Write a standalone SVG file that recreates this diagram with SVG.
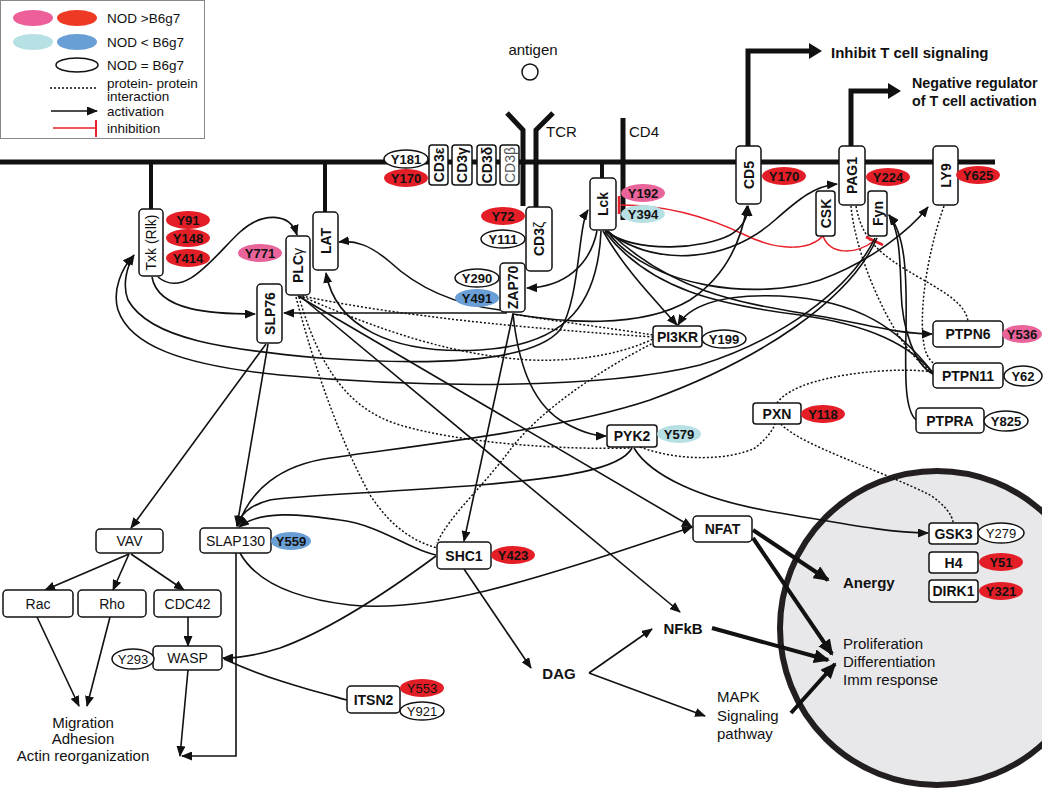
<svg xmlns="http://www.w3.org/2000/svg" width="1050" height="790" viewBox="0 0 1050 790">
<style>
text{font-family:"Liberation Sans",Arial,sans-serif;fill:#111}
.bx{fill:#fff;stroke:#111;stroke-width:1.5}
.lb{font-size:14px;font-weight:bold;text-anchor:middle;dominant-baseline:central}
.ln{font-size:14px;text-anchor:middle;dominant-baseline:central}
.y{font-size:13px;font-weight:bold;text-anchor:middle;dominant-baseline:central}
.yn{font-size:13px;text-anchor:middle;dominant-baseline:central}
.r{fill:#e41e26}.p{fill:#e9649a}.lbl{fill:#b7e0e4}.b{fill:#6a9fd6}.w{fill:#fff;stroke:#111;stroke-width:1.5}
.c{fill:none;stroke:#111;stroke-width:1.6}
.d{fill:none;stroke:#111;stroke-width:1.5;stroke-dasharray:2 2}
.k{fill:none;stroke:#111;stroke-width:4}
.m{fill:none;stroke:#111;stroke-width:5}
.red{fill:none;stroke:#e8202a;stroke-width:1.5}
.lg{font-size:13.5px}
.big{font-size:15px;font-weight:bold}
.t15{font-size:15px}
</style>
<defs>
<marker id="a" markerWidth="11" markerHeight="9" refX="10" refY="4.5" orient="auto" markerUnits="userSpaceOnUse"><path d="M0,0 L11,4.5 L0,9 z" fill="#111"/></marker>
<marker id="as" markerWidth="11" markerHeight="9" refX="10" refY="4.5" orient="auto-start-reverse" markerUnits="userSpaceOnUse"><path d="M0,0 L11,4.5 L0,9 z" fill="#111"/></marker>
<marker id="A" markerWidth="16" markerHeight="14" refX="14" refY="7" orient="auto" markerUnits="userSpaceOnUse"><path d="M0,0 L16,7 L0,14 z" fill="#111"/></marker>
<clipPath id="clipN"><rect x="0" y="0" width="1042" height="790"/></clipPath>
</defs>

<!-- legend -->
<g id="legend">
<rect x="0.5" y="0.5" width="204" height="138" fill="#fff" stroke="#888" stroke-width="1"/>
<ellipse cx="33" cy="18" rx="20" ry="8" fill="#ec5f98"/>
<ellipse cx="77" cy="18" rx="20" ry="8" fill="#ee3a24"/>
<ellipse cx="33" cy="42" rx="20" ry="8" fill="#b7e0e4"/>
<ellipse cx="77" cy="42" rx="20" ry="8" fill="#6a9fd6"/>
<ellipse cx="77" cy="65" rx="21" ry="7" fill="#fff" stroke="#111" stroke-width="1.5"/>
<text class="lg" x="107" y="23">NOD &gt;B6g7</text>
<text class="lg" x="107" y="47">NOD &lt; B6g7</text>
<text class="lg" x="107" y="70">NOD = B6g7</text>
<line x1="50" y1="88" x2="96" y2="88" class="d" stroke-width="1.2"/>
<text class="lg" x="107" y="88">protein- protein</text>
<text class="lg" x="107" y="101">interaction</text>
<line x1="51" y1="111" x2="97" y2="111" class="c" marker-end="url(#a)"/>
<text class="lg" x="107" y="116">activation</text>
<line x1="53" y1="128" x2="96" y2="128" class="red"/>
<line x1="96" y1="120" x2="96" y2="137" stroke="#e8202a" stroke-width="2"/>
<text class="lg" x="107" y="133">inhibition</text>
</g>

<!-- nucleus -->
<g id="nucleus" clip-path="url(#clipN)">
<circle cx="937" cy="628" r="157" fill="#e8e8ea" stroke="#231f20" stroke-width="6"/>
</g>

<!-- membrane and receptors -->
<g id="membrane">
<line x1="0" y1="162" x2="995" y2="162" class="m"/>
<line x1="151" y1="162" x2="151" y2="209" stroke="#111" stroke-width="4"/>
<line x1="325" y1="162" x2="325" y2="212" stroke="#111" stroke-width="4"/>
<line x1="602" y1="162" x2="602" y2="178" stroke="#111" stroke-width="4"/>
<line x1="623" y1="118" x2="623" y2="220" stroke="#111" stroke-width="5"/>
<polyline points="507,113 523,130 523,206" class="m"/>
<polyline points="553,113 536,130 536,207" class="m"/>
<path d="M748,146 V51 H811" class="m"/>
<path d="M809,43 L822,51 L809,59 z" fill="#111"/>
<path d="M851,146 V91 H890" class="m"/>
<path d="M888,83 L901,91 L888,99 z" fill="#111"/>
</g>

<g id="labels">
<text x="533" y="55" text-anchor="middle" font-size="15">antigen</text>
<circle cx="530" cy="72" r="8" fill="#fff" stroke="#111" stroke-width="1.5"/>
<text x="546" y="137" font-size="15">TCR</text>
<text x="629" y="137" font-size="15">CD4</text>
<text x="831" y="58" class="big">Inhibit T cell signaling</text>
<text x="912" y="88" class="big" font-size="14.3" style="font-size:14.3px">Negative regulator</text>
<text x="912" y="106" class="big" font-size="14.3" style="font-size:14.3px">of T cell activation</text>
<text x="559" y="673" class="big" text-anchor="middle" dominant-baseline="central">DAG</text>
<text x="683" y="628" class="big" text-anchor="middle" dominant-baseline="central">NFkB</text>
<text x="717" y="702" class="t15">MAPK</text>
<text x="717" y="721" class="t15">Signaling</text>
<text x="717" y="739" class="t15">pathway</text>
<text x="843" y="588" class="big">Anergy</text>
<text x="843" y="649" class="t15">Proliferation</text>
<text x="843" y="667" class="t15">Differentiation</text>
<text x="843" y="685" class="t15">Imm response</text>
<text x="83" y="728" class="t15" text-anchor="middle">Migration</text>
<text x="83" y="744" class="t15" text-anchor="middle">Adhesion</text>
<text x="83" y="761" class="t15" text-anchor="middle">Actin reorganization</text>
</g>

<!-- connectors -->
<g id="connectors">
<!-- dotted interactions -->
<path class="d" d="M302,296 C380,312 480,325 653,337"/>
<path class="d" d="M303,297 C380,330 450,355 530,360 C590,362 630,350 653,339"/>
<path class="d" d="M512,314 C560,322 610,328 653,335"/>
<path class="d" d="M655,342 C600,370 540,410 510,450 C480,490 450,515 437,543"/>
<path class="d" d="M296,297 C315,370 340,440 370,495 C390,525 410,540 437,548"/>
<path class="d" d="M299,297 C320,370 350,410 400,425 C460,443 560,450 632,448"/>
<path class="d" d="M640,447 C680,462 730,460 755,448 C765,440 772,432 775,424"/>
<path class="d" d="M781,424 C800,445 880,470 930,495 C945,505 952,515 953,522"/>
<path class="d" d="M777,403 C790,385 830,375 880,371 C910,369 925,371 933,372"/>
<path class="d" d="M856,206 C862,240 880,255 920,278 C950,295 965,305 968,321"/>
<path class="d" d="M851,206 C855,250 880,310 905,345 C918,362 926,368 933,372"/>
<path class="d" d="M944,206 C925,260 918,320 925,350 C928,358 931,362 935,364"/>

<!-- red inhibition -->
<path class="red" d="M823,236 C810,250 780,252 745,235 C710,218 670,205 621,205"/>
<line x1="619" y1="196" x2="619" y2="214" stroke="#e8202a" stroke-width="2.5"/>
<path class="red" d="M823,236 C830,255 855,255 874,241"/>
<line x1="866" y1="237" x2="883" y2="245" stroke="#e8202a" stroke-width="2.5"/>

<!-- activation -->
<path class="c" d="M158,277 C185,300 215,255 240,232 C262,212 290,212 297,235" marker-end="url(#a)"/>
<path class="c" d="M152,277 C158,312 215,314 255,314" marker-end="url(#a)"/>
<path class="c" d="M588,210 C578,225 580,300 560,330 C530,365 420,365 320,358 C230,350 150,340 128,300 C122,285 127,266 134,255" marker-start="url(#as)" marker-end="url(#a)"/>
<path class="c" d="M875,238 C850,290 780,340 700,365 C600,390 420,388 280,375 C180,365 130,345 118,310 C112,290 122,268 133,256" marker-end="url(#a)"/>
<path class="c" d="M507,313 L284,313" marker-end="url(#a)"/>
<path class="c" d="M500,310 C460,305 420,290 390,262 C370,245 355,240 339,242" marker-end="url(#a)"/>
<path class="c" d="M597,231 C590,265 565,287 527,288" marker-end="url(#a)"/>
<path class="c" d="M601,231 C598,300 570,345 480,350 C390,355 335,325 326,273" marker-end="url(#a)"/>
<path class="c" d="M605,231 C640,255 705,248 730,235 C742,228 748,218 748,206" marker-end="url(#a)"/>
<path class="c" d="M513,314 C560,322 640,330 690,300 C720,280 740,250 747,206" marker-end="url(#a)"/>
<path class="c" d="M606,231 C660,270 730,260 775,220 C800,198 815,186 837,184" marker-end="url(#a)"/>
<path class="c" d="M603,231 C625,270 655,300 677,325" marker-end="url(#a)"/>
<path class="c" d="M607,231 C650,290 760,300 820,280 C870,262 910,230 928,207" marker-end="url(#a)"/>
<path class="c" d="M608,231 C680,300 760,305 830,318 C880,328 905,334 932,334" marker-end="url(#a)"/>
<path class="c" d="M605,232 C650,290 720,305 800,315 C870,325 910,345 933,373"/>
<path class="c" d="M933,373 C900,330 860,300 780,296 C720,294 690,305 678,325" marker-end="url(#a)"/>
<path class="c" d="M933,374 C915,365 902,330 901,290 C900,250 898,228 889,215" marker-end="url(#a)"/>
<path class="c" d="M916,420 C905,410 905,380 906,330 C907,270 905,235 889,215" marker-end="url(#a)"/>
<path class="c" d="M877,238 C850,300 760,360 650,400 C560,430 420,445 330,458 C280,465 250,490 238,526" marker-end="url(#a)"/>
<path class="c" d="M632,448 C620,470 560,478 480,485 C380,493 300,495 270,500 C250,505 240,515 237,526" marker-end="url(#a)"/>
<path class="c" d="M436,555 C410,550 380,525 340,520 C300,514 260,510 239,527" marker-end="url(#a)"/>
<path class="c" d="M268,344 L237,526" marker-end="url(#a)"/>
<path class="c" d="M266,344 L131,528" marker-end="url(#a)"/>
<path class="c" d="M513,314 C518,360 530,400 560,420 C580,432 595,436 606,436" marker-end="url(#a)"/>
<path class="c" d="M513,314 L464,541" marker-end="url(#a)"/>
<path class="c" d="M634,448 C650,475 700,500 780,513 C840,523 890,533 928,533" marker-end="url(#a)"/>
<path class="c" d="M298,296 L692,527" marker-end="url(#a)"/>
<path class="c" d="M300,296 L680,612" marker-end="url(#a)"/>
<path class="c" d="M240,553 C255,580 290,598 350,605 C430,613 520,585 692,527" marker-end="url(#a)"/>
<path class="c" d="M436,556 C390,590 330,630 280,648 C255,656 235,658 223,658" marker-end="url(#a)"/>
<path class="c" d="M347,700 C310,690 270,680 224,659"/>
<path class="c" d="M464,569 L531,668" marker-end="url(#a)"/>
<path class="c" d="M589,673 L652,629" marker-end="url(#a)"/>
<path class="c" d="M589,673 L705,716" marker-end="url(#a)"/>
<path class="c" d="M188,670 L180,756" marker-end="url(#a)"/>
<path class="c" d="M236,553 V756 H182" marker-end="url(#a)"/>
<path class="c" d="M37,617 L79,706" marker-end="url(#a)"/>
<path class="c" d="M110,617 L87,706" marker-end="url(#a)"/>
<path class="c" d="M129,554 L45,590" marker-end="url(#a)"/>
<path class="c" d="M129,554 L113,590" marker-end="url(#a)"/>
<path class="c" d="M131,554 L184,590" marker-end="url(#a)"/>
<path class="c" d="M188,617 L188,646" marker-end="url(#a)"/>
<!-- thick outcome arrows -->
<path class="k" d="M753,530 L828,580" marker-end="url(#A)"/>
<path class="k" d="M753,538 L832,654" marker-end="url(#A)"/>
<path class="k" d="M712,628 L828,660" marker-end="url(#A)"/>
<path class="k" d="M791,713 L835,664" marker-end="url(#A)"/>
</g>

<!-- vertical nodes -->
<g id="Txk"><rect class="bx" x="139" y="209" width="24" height="67" rx="4"/><text class="ln" transform="translate(151,242.5) rotate(-90)">Txk (Rlk)</text></g>
<g id="LAT"><rect class="bx" x="313" y="212" width="25" height="58" rx="4"/><text class="lb" transform="translate(325.5,241) rotate(-90)">LAT</text></g>
<g id="PLCg"><rect class="bx" x="286" y="236" width="24" height="59" rx="4"/><text class="lb" transform="translate(298,265.5) rotate(-90)">PLC<tspan font-weight="normal">γ</tspan></text></g>
<g id="SLP76"><rect class="bx" x="257" y="284" width="25" height="59" rx="4"/><text class="lb" transform="translate(269.5,313.5) rotate(-90)">SLP76</text></g>
<g id="CD3e"><rect class="bx" x="429" y="145" width="19" height="40" rx="3"/><text class="lb" font-size="13" transform="translate(438.5,165) rotate(-90)">CD3ε</text></g>
<g id="CD3g"><rect class="bx" x="452" y="145" width="20" height="40" rx="3"/><text class="lb" font-size="13" transform="translate(462,165) rotate(-90)">CD3γ</text></g>
<g id="CD3d"><rect class="bx" x="477" y="145" width="19" height="40" rx="3"/><text class="lb" font-size="13" transform="translate(486.5,165) rotate(-90)">CD3δ</text></g>
<g id="CD3b"><rect class="bx" x="500" y="145" width="19" height="40" rx="3"/><text class="ln" font-size="13" style="fill:#555" transform="translate(509.5,165) rotate(-90)">CD3β</text></g>
<g id="CD3z"><rect class="bx" x="526" y="207" width="26" height="64" rx="4"/><text class="lb" transform="translate(539,239) rotate(-90)">CD3<tspan font-weight="normal">ζ</tspan></text></g>
<g id="ZAP70"><rect class="bx" x="500" y="263" width="25" height="49" rx="4"/><text class="lb" transform="translate(512.5,287.5) rotate(-90)">ZAP70</text></g>
<g id="Lck"><rect class="bx" x="590" y="178" width="26" height="52" rx="4"/><text class="lb" transform="translate(603,204) rotate(-90)">Lck</text></g>
<g id="CD5"><rect class="bx" x="736" y="146" width="25" height="58" rx="4"/><text class="lb" transform="translate(748.5,175) rotate(-90)">CD5</text></g>
<g id="PAG1"><rect class="bx" x="839" y="146" width="26" height="59" rx="4"/><text class="lb" transform="translate(852,175.5) rotate(-90)">PAG1</text></g>
<g id="LY9"><rect class="bx" x="933" y="146" width="25" height="59" rx="4"/><text class="lb" transform="translate(945.5,175.5) rotate(-90)">LY9</text></g>
<g id="CSK"><rect class="bx" x="816" y="191" width="19" height="45" rx="3"/><text class="lb" font-size="13" transform="translate(825.5,213.5) rotate(-90)">CSK</text></g>
<g id="Fyn"><rect class="bx" x="868" y="191" width="19" height="45" rx="3"/><text class="lb" font-size="13" transform="translate(877.5,213.5) rotate(-90)">Fyn</text></g>

<!-- horizontal nodes -->
<g id="PI3KR"><rect class="bx" x="653" y="326" width="49" height="21" rx="3"/><text class="lb" x="677.5" y="336.5">PI3KR</text></g>
<g id="PTPN6"><rect class="bx" x="933" y="321" width="70" height="26" rx="4"/><text class="lb" font-size="15" x="968" y="334">PTPN6</text></g>
<g id="PTPN11"><rect class="bx" x="933" y="363" width="70" height="25" rx="4"/><text class="lb" font-size="15" x="968" y="375.5">PTPN11</text></g>
<g id="PTPRA"><rect class="bx" x="916" y="408" width="68" height="25" rx="4"/><text class="lb" font-size="15" x="950" y="420.5">PTPRA</text></g>
<g id="PXN"><rect class="bx" x="753" y="403" width="48" height="21" rx="3"/><text class="lb" x="777" y="413.5">PXN</text></g>
<g id="PYK2"><rect class="bx" x="607" y="425" width="50" height="22" rx="3"/><text class="lb" x="632" y="436">PYK2</text></g>
<g id="SHC1"><rect class="bx" x="437" y="542" width="54" height="27" rx="4"/><text class="lb" x="464" y="555.5">SHC1</text></g>
<g id="SLAP130"><rect class="bx" x="200" y="528" width="71" height="25" rx="4"/><text class="ln" x="235.5" y="540.5">SLAP130</text></g>
<g id="VAV"><rect class="bx" x="96" y="529" width="67" height="24" rx="4"/><text class="ln" x="129.5" y="541">VAV</text></g>
<g id="Rac"><rect class="bx" x="3" y="590" width="70" height="27" rx="4"/><text class="ln" x="38" y="603.5">Rac</text></g>
<g id="Rho"><rect class="bx" x="78" y="590" width="68" height="27" rx="4"/><text class="ln" x="112" y="603.5">Rho</text></g>
<g id="CDC42"><rect class="bx" x="154" y="590" width="67" height="27" rx="4"/><text class="ln" x="187.5" y="603.5">CDC42</text></g>
<g id="WASP"><rect class="bx" x="153" y="646" width="69" height="24" rx="4"/><text class="ln" x="187.5" y="658">WASP</text></g>
<g id="ITSN2"><rect class="bx" x="347" y="686" width="53" height="27" rx="4"/><text class="lb" x="373.5" y="699.5">ITSN2</text></g>
<g id="NFAT"><rect class="bx" x="693" y="516" width="59" height="26" rx="4"/><text class="lb" x="722.5" y="529">NFAT</text></g>
<g id="GSK3"><rect class="bx" x="929" y="523" width="49" height="21" rx="3"/><text class="lb" x="953.5" y="533.5">GSK3</text></g>
<g id="H4"><rect class="bx" x="929" y="552" width="49" height="21" rx="3"/><text class="lb" x="953.5" y="562.5">H4</text></g>
<g id="DIRK1"><rect class="bx" x="929" y="580" width="49" height="22" rx="3"/><text class="lb" x="953.5" y="591">DIRK1</text></g>

<!-- phosphosites -->
<g id="sites">
<ellipse class="w" cx="406" cy="159" rx="22" ry="9"/><text class="y" x="406" y="159">Y181</text>
<ellipse class="r" cx="406" cy="178" rx="22" ry="9"/><text class="y" x="406" y="178">Y170</text>
<ellipse class="r" cx="503" cy="216" rx="22" ry="9"/><text class="y" x="503" y="216">Y72</text>
<ellipse class="w" cx="503" cy="239" rx="22" ry="9"/><text class="y" x="503" y="239">Y111</text>
<ellipse class="w" cx="477" cy="278" rx="22" ry="9"/><text class="y" x="477" y="278">Y290</text>
<ellipse class="b" cx="477" cy="298" rx="22" ry="9"/><text class="y" x="477" y="298">Y491</text>
<ellipse class="p" cx="643" cy="193" rx="22" ry="9"/><text class="y" x="643" y="193">Y192</text>
<ellipse class="lbl" cx="643" cy="214" rx="22" ry="9"/><text class="y" x="643" y="214">Y394</text>
<ellipse class="r" cx="188" cy="220" rx="22" ry="9"/><text class="y" x="188" y="220">Y91</text>
<ellipse class="r" cx="188" cy="238" rx="22" ry="9"/><text class="y" x="188" y="238">Y148</text>
<ellipse class="r" cx="188" cy="258" rx="22" ry="9"/><text class="y" x="188" y="258">Y414</text>
<ellipse class="p" cx="260" cy="253" rx="22" ry="9"/><text class="y" x="260" y="253">Y771</text>
<ellipse class="w" cx="724" cy="339" rx="22" ry="9"/><text class="y" x="724" y="339">Y199</text>
<ellipse class="p" cx="1022" cy="334" rx="20" ry="9"/><text class="y" x="1022" y="334">Y536</text>
<ellipse class="w" cx="1023" cy="376" rx="19" ry="10"/><text class="y" x="1023" y="376">Y62</text>
<ellipse class="w" cx="1006" cy="421" rx="22" ry="10"/><text class="y" x="1006" y="421">Y825</text>
<ellipse class="r" cx="823" cy="414" rx="22" ry="9"/><text class="y" x="823" y="414">Y118</text>
<ellipse class="lbl" cx="679" cy="434" rx="22" ry="9"/><text class="y" x="679" y="434">Y579</text>
<ellipse class="r" cx="513" cy="555" rx="22" ry="9"/><text class="y" x="513" y="555">Y423</text>
<ellipse class="b" cx="291" cy="541" rx="20" ry="9"/><text class="y" x="291" y="541">Y559</text>
<ellipse class="w" cx="133" cy="659" rx="21" ry="10"/><text class="yn" x="133" y="659">Y293</text>
<ellipse class="r" cx="422" cy="688" rx="22" ry="9"/><text class="yn" x="422" y="688">Y553</text>
<ellipse class="w" cx="422" cy="711" rx="22" ry="9"/><text class="yn" x="422" y="711">Y921</text>
<ellipse class="w" cx="1001" cy="533" rx="23" ry="10"/><text class="yn" x="1001" y="533">Y279</text>
<ellipse class="r" cx="1001" cy="562" rx="22" ry="9"/><text class="y" x="1001" y="562">Y51</text>
<ellipse class="r" cx="1001" cy="591" rx="22" ry="9"/><text class="y" x="1001" y="591">Y321</text>
<ellipse class="r" cx="784" cy="176" rx="22" ry="9"/><text class="y" x="784" y="176">Y170</text>
<ellipse class="r" cx="888" cy="177" rx="22" ry="9"/><text class="y" x="888" y="177">Y224</text>
<ellipse class="r" cx="978" cy="175" rx="22" ry="9"/><text class="y" x="978" y="175">Y625</text>
</g>
</svg>
